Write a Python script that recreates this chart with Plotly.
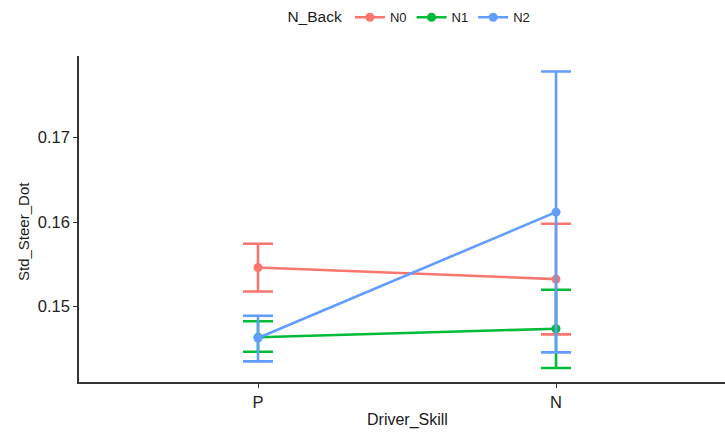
import plotly.graph_objects as go

skills = ["P", "N"]
skill_pos = [1, 2]
groups = ["N0", "N1", "N2"]
colors = ["#F8766D", "#00BA38", "#619CFF"]
means = {
    "N0": [0.15462, 0.15324],
    "N1": [0.14636, 0.14736],
    "N2": [0.14626, 0.16117],
}
upper = {
    "N0": [0.15742, 0.15979],
    "N1": [0.14825, 0.15198],
    "N2": [0.14890, 0.17783],
}
lower = {
    "N0": [0.15178, 0.14669],
    "N1": [0.14464, 0.14271],
    "N2": [0.14349, 0.14456],
}
y_ticks = [0.15, 0.16, 0.17]

fig = go.Figure()
for g, c in zip(groups, colors):
    m = means[g]
    fig.add_trace(go.Scatter(
        x=skill_pos, y=m, name=g, mode="lines+markers",
        line=dict(color=c, width=2.6),
        marker=dict(color=c, size=9),
        error_y=dict(type="data", symmetric=False,
                     array=[u - v for u, v in zip(upper[g], m)],
                     arrayminus=[v - l for l, v in zip(lower[g], m)],
                     color=c, thickness=2.6, width=15),
    ))

fig.update_layout(
    width=725, height=432,
    margin=dict(l=79, r=0, t=56, b=50),
    plot_bgcolor="white", paper_bgcolor="white",
    font=dict(family="Liberation Sans, Arial, sans-serif", color="#1a1a1a"),
    showlegend=True,
    legend=dict(orientation="h", x=0.513, xanchor="center", y=0.923, yanchor="bottom",
                yref="container", title=dict(text="N_Back", font=dict(size=15.5, color="#1a1a1a")),
                font=dict(size=13, color="#1a1a1a"), itemwidth=30),
    xaxis=dict(range=[0.3993, 2.567], tickvals=skill_pos, ticktext=skills,
               showgrid=False, zeroline=False, showline=True, linecolor="#333333", linewidth=1.5,
               ticks="outside", ticklen=4, tickcolor="#333333", tickwidth=1.3,
               tickfont=dict(size=16.5, color="#222222")),
    yaxis=dict(range=[0.14105, 0.17967], tickvals=y_ticks, ticktext=["0.15", "0.16", "0.17"],
               showgrid=False, zeroline=False, showline=True, linecolor="#333333", linewidth=1.5,
               ticks="outside", ticklen=4, tickcolor="#333333", tickwidth=1.3,
               tickfont=dict(size=16.5, color="#222222")),
    annotations=[
        dict(text="Driver_Skill", xref="paper", yref="paper", x=(407 - 79) / 646, y=(382 - 420) / 326,
             xanchor="center", yanchor="middle", showarrow=False, font=dict(size=16, color="#1a1a1a")),
        dict(text="Std_Steer_Dot", xref="paper", yref="paper", x=-(79 - 23) / 646, y=(382 - 232) / 326,
             xanchor="center", yanchor="middle", textangle=-90, showarrow=False,
             font=dict(size=15, color="#1a1a1a")),
    ],
)

fig.write_html("out.html")
